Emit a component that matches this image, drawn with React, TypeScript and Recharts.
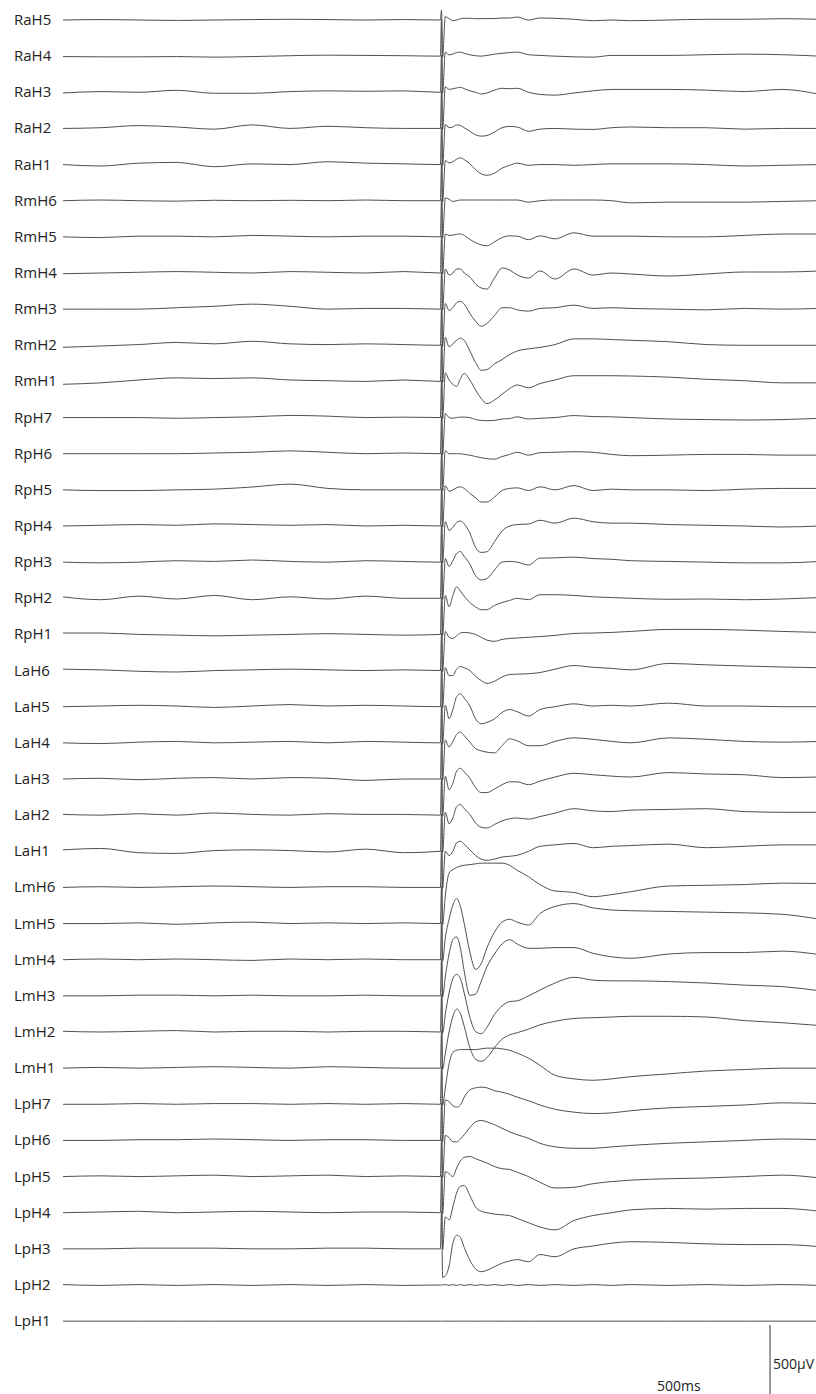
import { LineChart, Line, XAxis, YAxis, ReferenceLine } from "recharts";

// sample times (ms), stimulus at 0
const TIMES = [
  -1000, -900, -800, -700, -600, -500, -400, -300, -200, -100, -3,
  0, 3,
  10, 20, 30, 40, 50, 60, 75, 90, 105, 120, 140, 160, 180, 200, 230, 260,
  300, 350, 400, 450, 500, 600, 700, 800, 900, 1000,
];

// each trace: 11 pre-stimulus values, 2 artifact values, 26 post-stimulus values (µV)
const RaH5 = [0, 3, 0, -3, 0, 3, 5, 3, 0, 3, 0, 70, -260, 23, 9, -5, 0, 9, 12, 12, 9, 10, 10, 10, 14, 14, 21, 0, 14, 12, 5, -5, 0, -5, 0, 5, 5, 9, 5];
const RaH4 = [-3, -5, -5, -3, -7, -3, 3, 7, 5, 3, 0, 260, -260, 28, 9, 15, 25, 28, 20, 9, 3, 0, 5, 14, 20, 25, 28, 10, 5, 0, -5, -7, 5, 5, 5, 10, 14, 10, 0];
const RaH3 = [-5, 5, 0, 14, -7, -7, 5, 10, 7, 10, 0, 260, -260, 40, 20, 25, 30, 35, 25, 10, 0, -12, -5, 15, 28, 25, 28, 0, -15, -20, -5, 10, 20, 20, 20, 15, 5, 20, -15];
const RaH2 = [0, 5, 20, 10, -5, 25, 0, 15, 5, 0, 0, 260, -260, 28, 5, 10, 25, 20, 5, -20, -45, -54, -50, -25, 5, 14, 10, -20, -5, 0, -5, -7, 5, 10, 5, 5, -5, 0, 0];
const RaH1 = [0, -10, 10, 15, -15, 5, 0, 20, 10, 5, 0, 260, -260, 28, 12, 20, 38, 47, 35, 5, -35, -65, -75, -60, -25, -5, 10, -5, 0, 0, -5, 0, 5, 5, 5, 0, -10, -5, 0];
const RmH6 = [0, 5, 0, -3, 3, 0, 3, 0, 5, 0, 0, 260, -260, 20, 10, -5, 0, 5, 5, 5, 5, 5, 5, 5, 5, 5, 5, -10, 0, 5, 5, 5, 0, -15, -10, -10, -10, -5, 0];
const RmH5 = [0, -5, 5, 5, 0, 10, 5, 0, 5, 5, 0, 260, -260, 20, 10, 12, 18, 21, 10, -18, -40, -56, -63, -35, -5, 7, 5, -20, 7, -14, 28, 5, 5, 5, 0, 0, 10, 20, 20];
const RmH4 = [-5, 0, 5, 10, 5, 0, 10, 5, 0, 10, 0, 260, -260, 28, -14, 0, 28, 28, 0, -28, -77, -105, -112, -35, 35, 21, -14, -35, 14, -42, 28, -14, 0, -7, -21, -7, 7, 7, 14];
const RmH3 = [0, 0, 0, 10, 20, 35, 20, 0, 5, 5, 0, 260, -260, 40, -10, 10, 45, 55, 35, -30, -85, -120, -100, -45, 10, 10, -5, -14, 5, 10, 28, 5, 10, 5, 0, -5, 5, 0, 5];
const RmH2 = [-14, -5, 5, 20, 10, 28, 10, 5, 10, 5, 0, 260, -260, 55, -10, 10, 35, 50, 35, -40, -120, -175, -170, -130, -100, -65, -40, -25, -15, 5, 45, 45, 40, 35, 25, 5, 0, 0, 0];
const RmH1 = [-20, -10, 10, 25, 20, 25, 10, 5, 0, 10, 0, 260, -260, 60, 10, -20, -35, 20, 55, 10, -60, -120, -155, -130, -90, -50, -25, -45, -15, 10, 40, 40, 40, 38, 30, 15, 5, -10, -10];
const RpH7 = [0, 0, 0, -5, 0, 5, 15, 10, 0, 3, 0, 260, -260, 28, 0, -5, 0, 3, 3, 0, -14, -20, -22, -20, -10, -7, 5, -10, -5, 0, 14, 7, 5, 0, -10, -14, -17, -14, -5];
const RpH6 = [0, 0, 0, 0, 5, 10, 20, 10, 0, 5, 0, 260, -260, 21, 0, 0, 0, 0, -5, -10, -20, -28, -35, -38, -20, -5, 10, -10, 7, 10, 14, 10, -5, -14, -10, -5, -5, -10, -10];
const RpH5 = [0, -5, -5, 0, 5, 20, 40, 10, 0, 0, 0, 260, -260, 30, -10, 0, 15, 21, 10, -25, -55, -85, -85, -50, -5, 10, 14, -5, 21, 0, 30, -5, 5, 0, 0, -5, 5, 10, 10];
const RpH4 = [0, 5, 10, 5, 15, 10, 5, 10, 0, 5, 0, 260, -260, 30, -30, -10, 25, 35, 15, -50, -150, -185, -180, -110, -35, 0, 10, 14, 40, 20, 55, 30, 20, 20, 10, 5, 0, -7, 0];
const RpH3 = [0, -5, 0, 10, 5, 15, 5, 0, 10, 5, 0, 260, -260, 25, -30, 10, 60, 75, 40, -15, -95, -125, -115, -55, 0, 5, 0, -20, 28, 30, 35, 25, 20, 10, 5, 0, -5, -5, 5];
const RpH2 = [10, -10, 15, -5, 20, -10, 10, -5, 15, 0, 0, 260, -260, 20, -60, 20, 80, 50, 15, -30, -60, -80, -80, -50, -30, -15, 0, -10, 25, 25, 20, 10, 5, 0, -7, -5, -10, -5, 5];
const RpH1 = [10, 10, 0, -5, -10, -5, 0, 5, 0, -5, 0, 260, -260, 21, -20, -28, -10, 10, 14, 10, 0, -20, -40, -48, -35, -28, -25, -20, -15, -7, 7, 10, 14, 21, 35, 35, 30, 21, 14];
const LaH6 = [10, 5, -5, -10, 0, 5, 10, 5, 0, 5, 0, 260, -260, 20, -35, -35, 10, 28, 20, 0, -40, -70, -90, -75, -45, -28, -25, -22, -14, 10, 35, 23, 15, 5, 50, 40, 32, 25, 20];
const LaH5 = [0, 5, 10, 5, -5, 5, 15, 5, 10, 5, 0, 260, -260, 10, -84, -20, 70, 90, 60, 5, -85, -120, -110, -85, -40, -20, -35, -65, -20, 0, 20, 5, 10, 5, 25, 5, 5, 0, 0];
const LaH4 = [0, -5, 5, 10, 0, 5, 10, 0, 10, 5, 0, 260, -260, 20, -28, 10, 60, 75, 50, 5, -40, -56, -65, -70, -20, 28, 14, -20, -20, 10, 35, 25, 10, 0, 35, 25, 10, 5, 10];
const LaH3 = [0, 5, -5, 5, 10, 0, 10, 5, -10, 0, 0, 260, -260, 20, -75, -30, 55, 75, 50, 5, -60, -95, -95, -70, -40, -20, -20, -40, -15, 14, 40, 30, 20, 14, 45, 35, 30, 10, 14];
const LaH2 = [5, 0, 10, 0, 15, 5, 0, 10, 5, 5, 0, 260, -260, 20, -60, -20, 60, 75, 45, 5, -55, -85, -90, -65, -40, -25, -20, -28, -10, 14, 45, 30, 25, 35, 40, 45, 25, 20, 20];
const LaH1 = [10, 20, -10, -15, 5, 10, 5, -5, 15, -10, 0, 260, -260, 0, -30, 0, 60, 70, 50, 10, -30, -55, -63, -55, -40, -35, -28, 0, 35, 45, 55, 25, 35, 40, 50, 25, 35, 45, 45];
const LmH6 = [0, 5, 0, 5, 10, 5, 0, 5, 5, 0, 0, 260, -260, -60, 100, 125, 140, 150, 155, 160, 165, 170, 170, 170, 170, 155, 120, 75, 20, -25, -35, -65, -50, -30, 10, 15, 20, 30, 28];
const LmH5 = [0, 0, 5, -5, 5, 10, 0, 5, 0, 5, 0, 260, -260, -100, 30, 130, 175, 120, 0, -200, -320, -280, -170, -60, 10, 30, 10, -10, 70, 120, 140, 110, 95, 90, 85, 80, 75, 65, 30];
const LmH4 = [0, 5, 0, 5, 0, -5, 5, 0, 5, 0, 0, 260, -260, -120, 40, 140, 160, 80, -80, -250, -240, -150, -50, 40, 110, 140, 110, 80, 80, 85, 85, 45, 20, 10, 40, 50, 50, 60, 35];
const LmH3 = [0, 0, 5, 5, 0, 5, 0, 0, 5, 0, 0, 260, -260, -130, 20, 120, 150, 120, 20, -150, -250, -265, -220, -130, -70, -40, -35, 0, 40, 90, 130, 110, 105, 105, 100, 90, 75, 65, 35];
const LmH2 = [5, 0, 5, 10, 0, 5, 5, 0, 5, 5, 0, 260, -260, -150, 0, 110, 160, 130, 40, -110, -190, -205, -180, -110, -50, -20, -5, 20, 50, 75, 95, 100, 105, 110, 110, 105, 80, 65, 45];
const LmH1 = [0, 5, 0, 5, 10, 5, 0, 10, 5, 0, 0, 260, -260, -140, 30, 110, 125, 130, 130, 130, 130, 135, 140, 140, 135, 125, 105, 70, 20, -50, -75, -85, -75, -60, -40, -20, -10, 0, 0];
const LpH7 = [0, 0, 5, 0, 5, 5, 0, 5, 0, 5, 0, 260, -260, 30, 20, -10, -20, -5, 50, 100, 115, 120, 115, 95, 85, 70, 50, 25, -5, -35, -55, -65, -60, -45, -25, -15, -5, 10, 5];
const LpH6 = [0, 0, 5, 5, 10, 5, 0, 5, 5, 0, 0, 260, -260, 35, 20, -10, -10, 10, 40, 90, 130, 140, 130, 110, 85, 60, 40, 15, -20, -45, -55, -55, -45, -35, -20, -10, 0, 10, 5];
const LpH5 = [0, 5, 0, 5, 10, 0, 5, 10, 0, 5, 0, 260, -260, 35, 20, 0, 60, 110, 135, 140, 125, 110, 95, 70, 55, 50, 30, 0, -40, -80, -75, -50, -35, -25, -15, -10, 0, 10, -10];
const LpH4 = [0, 5, 10, 0, 5, 10, 5, 0, 5, 5, 0, 260, -260, -30, -50, 40, 140, 185, 190, 120, 40, 10, 0, -10, -15, -20, -40, -70, -100, -120, -55, -20, 0, 20, 30, 25, 30, 30, 10];
const LpH3 = [0, 0, 5, 5, 5, 0, 0, 5, 5, 0, 0, 260, -200, -190, -120, 40, 95, 80, 10, -80, -140, -160, -150, -125, -100, -85, -75, -90, -40, -55, 0, 20, 40, 50, 45, 35, 30, 30, 15];
const LpH2 = [3, -3, 3, -3, 3, -3, 3, -3, 3, -3, 0, 0, 0, 3, -3, 3, -3, 3, -3, 3, -3, 3, -3, 3, -3, 3, -3, 3, -3, 3, -3, 3, -3, 3, -3, 3, -3, 3, -3];
const LpH1 = [0, 0, 0, 0, 0, 0, 0, 0, 0, 0, 0, 0, 0, 0, 0, 0, 0, 0, 0, 0, 0, 0, 0, 0, 0, 0, 0, 0, 0, 0, 0, 0, 0, 0, 0, 0, 0, 0, 0];

const CHANNELS: [string, number[]][] = [
  ["RaH5", RaH5], ["RaH4", RaH4], ["RaH3", RaH3], ["RaH2", RaH2], ["RaH1", RaH1],
  ["RmH6", RmH6], ["RmH5", RmH5], ["RmH4", RmH4], ["RmH3", RmH3], ["RmH2", RmH2], ["RmH1", RmH1],
  ["RpH7", RpH7], ["RpH6", RpH6], ["RpH5", RpH5], ["RpH4", RpH4], ["RpH3", RpH3], ["RpH2", RpH2], ["RpH1", RpH1],
  ["LaH6", LaH6], ["LaH5", LaH5], ["LaH4", LaH4], ["LaH3", LaH3], ["LaH2", LaH2], ["LaH1", LaH1],
  ["LmH6", LmH6], ["LmH5", LmH5], ["LmH4", LmH4], ["LmH3", LmH3], ["LmH2", LmH2], ["LmH1", LmH1],
  ["LpH7", LpH7], ["LpH6", LpH6], ["LpH5", LpH5], ["LpH4", LpH4], ["LpH3", LpH3], ["LpH2", LpH2], ["LpH1", LpH1],
];

// scale bar: 500 µV, drawn at t = 868 ms
const SCALE_UV = 500;
const SCALE_T = 868;
const SCALE_TOP = -9135;

const ROW_GAP = 253; // µV between stacked traces
const Y_MAX = 140;
const Y_MIN = -9618;

const data = TIMES.map((t, i) => {
  const row: Record<string, number> = { t };
  CHANNELS.forEach(([name, values], k) => {
    row[name] = values[i] - k * ROW_GAP;
  });
  return row;
});

const ticks = CHANNELS.map((_, k) => -k * ROW_GAP);

const FONT = "'Open Sans', 'Noto Sans', sans-serif";

function ChannelTick(props: any) {
  const { y, payload } = props;
  const k = Math.round(-payload.value / ROW_GAP);
  const ch = CHANNELS[k];
  if (!ch) return null;
  return (
    <text x={14} y={y} dy={5} fontSize={15} fill="#222" fontFamily={FONT} textAnchor="start">
      {ch[0]}
    </text>
  );
}

export default function App() {
  return (
    <div
      style={{
        position: "absolute",
        left: 0,
        top: 0,
        width: 816,
        height: 1394,
        overflow: "hidden",
        background: "#fff",
        fontFamily: FONT,
      }}
    >
      <LineChart width={820} height={1394} data={data} margin={{ top: 0, right: 0, bottom: 0, left: 0 }}>
        <XAxis dataKey="t" type="number" domain={[-1000, 1000]} hide />
        <YAxis
          type="number"
          domain={[Y_MIN, Y_MAX]}
          allowDataOverflow
          width={63}
          ticks={ticks}
          interval={0}
          axisLine={false}
          tickLine={false}
          tick={<ChannelTick />}
        />
        {CHANNELS.map(([name]) => (
          <Line
            key={name}
            dataKey={name}
            type="monotone"
            dot={false}
            stroke="#505050"
            strokeWidth={1}
            isAnimationActive={false}
          />
        ))}
        <ReferenceLine
          segment={[
            { x: SCALE_T, y: SCALE_TOP },
            { x: SCALE_T, y: SCALE_TOP - SCALE_UV },
          ]}
          stroke="#333"
          strokeWidth={1}
          ifOverflow="visible"
        />
      </LineChart>
      <div style={{ position: "absolute", left: 773, top: 1354, fontSize: 14, color: "#222", lineHeight: "19px" }}>
        500µV
      </div>
      <div style={{ position: "absolute", left: 657, top: 1376, fontSize: 14, color: "#222", lineHeight: "19px" }}>
        500ms
      </div>
    </div>
  );
}
